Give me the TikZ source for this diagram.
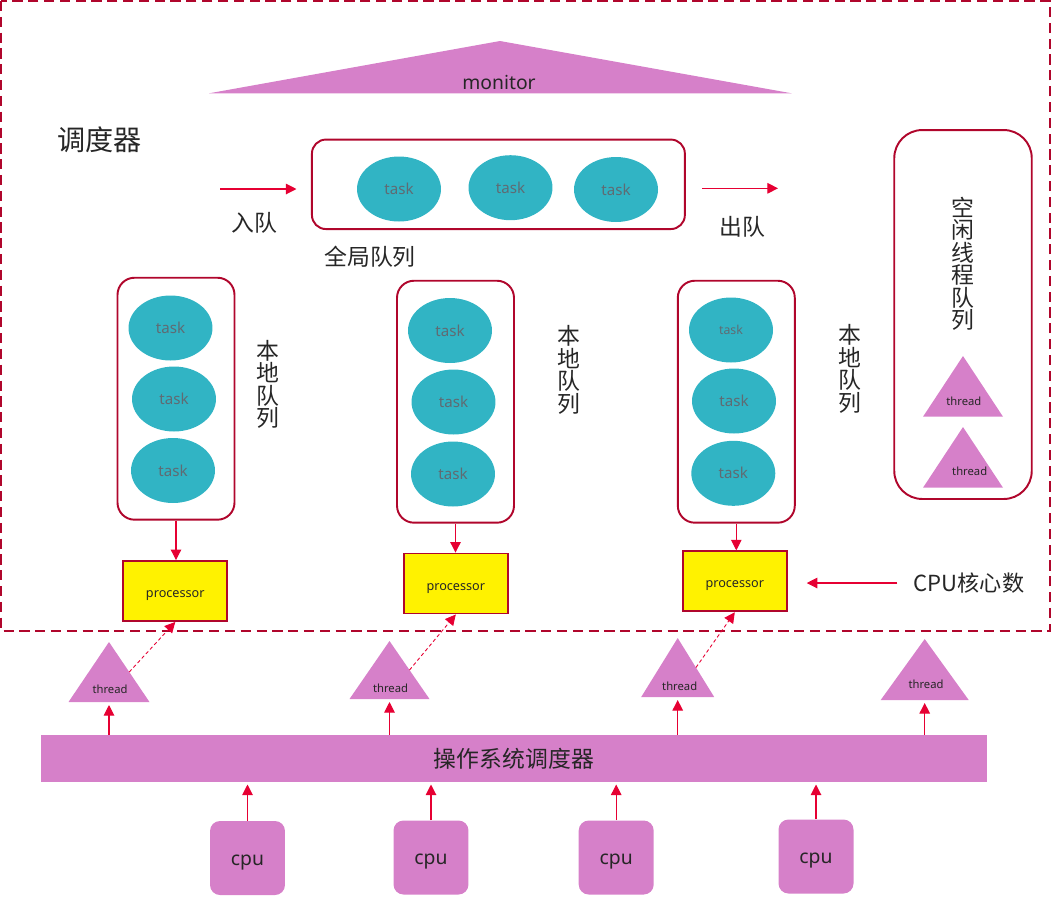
\documentclass[tikz,border=0pt]{standalone}
\usepackage{fontspec}
\setmainfont{Noto Sans}
\newfontfamily\cjk{Noto Sans CJK SC}
\usepackage{tikz}
\usetikzlibrary{arrows.meta,shapes.geometric}
\definecolor{koyuKirmizi}{HTML}{B0062C}
\definecolor{okKirmizi}{HTML}{E60033}
\definecolor{pembeMor}{HTML}{D680C9}
\definecolor{turkuaz}{HTML}{31B4C4}
\definecolor{yaziGri}{HTML}{5F6B73}
\definecolor{koyuYazi}{HTML}{262626}

\begin{document}
\begin{tikzpicture}[x=0.02cm,y=-0.02cm,
  kuyruk/.style={draw=koyuKirmizi,line width=1.1pt,rounded corners=0.34cm,minimum width=2.34cm,minimum height=4.84cm},
  gorev/.style={ellipse,fill=turkuaz,inner sep=0pt,minimum width=1.68cm,minimum height=1.3cm,text=yaziGri,font=\fontsize{8.6}{9}\selectfont},
  islemci/.style={draw=koyuKirmizi,line width=1.1pt,fill=yellow,minimum width=2.08cm,minimum height=1.2cm,text height=0.85em,text depth=0.1em,text=koyuYazi,font=\fontsize{7.2}{8}\selectfont},
  cpukutu/.style={fill=pembeMor,rounded corners=0.2cm,minimum width=1.5cm,minimum height=1.48cm,text height=0.9em,text depth=0.08em,text=koyuYazi,font=\fontsize{11}{11}\selectfont},
  okcizgi/.style={okKirmizi,line width=0.6pt,-{Triangle[length=6pt,width=6pt]}},
  kesikok/.style={okcizgi,line width=0.5pt,dash pattern=on 2pt off 1.5pt},
  etiket/.style={inner sep=0pt,align=center,text=koyuYazi,font=\cjk\fontsize{13}{12.8}\selectfont},
  ipyazi/.style={inner sep=0pt,text=koyuYazi,font=\fontsize{6.4}{7}\selectfont}]
\useasboundingbox (0,0) rectangle (1051,897);
\draw[koyuKirmizi,line width=1.3pt,dash pattern=on 5.8pt off 3.2pt] (1,1) rectangle (1050,631);
\fill[pembeMor] (209,93.3) -- (500,41) -- (791.7,93.3) -- cycle;
\node[inner sep=0pt,text=koyuYazi,font=\fontsize{11}{11}\selectfont] (mon) at (499,82) {monitor};
\node[etiket,font=\cjk\fontsize{16}{16}\selectfont] (sched) at (99.5,140) {调度器};

\node[kuyruk,minimum width=7.46cm,minimum height=1.79cm,rounded corners=0.28cm] (glob) at (498.4,184.3) {};
\foreach \n/\x/\y in {g1/399/189,g2/510.5/187.7,g3/616/189.5} \node[gorev] (\n) at (\x,\y) {task};
\coordinate (enq) at (220,189);
\coordinate (deq) at (778,188.3);
\draw[okcizgi,shorten >=0.29cm] (enq) -- (enq -| glob.west);
\draw[okcizgi,shorten <=0.33cm] (glob.east |- deq) -- (deq);
\node[etiket] (enqtxt) at (254,223) {入队};
\node[etiket] (deqtxt) at (742.5,227) {出队};
\node[etiket] (globtxt) at (370,257) {全局队列};

\foreach \n/\x/\y in {lq1/176/398.7,lq2/455.5/401.7,lq3/736.3/401.7} \node[kuyruk] (\n) at (\x,\y) {};
\foreach \n/\x/\y in {a1/170.5/328,a2/174/399,a3/173/470.5,b1/450/330.5,b2/453.5/402,b3/453/474,c2/734/401,c3/733.3/473.3}
  \node[gorev] (\n) at (\x,\y) {task};
\node[gorev,font=\fontsize{7}{7}\selectfont] (c1) at (731,330) {task};
\foreach \n/\x/\y in {yl1/267.5/384.5,yl2/568.6/370,yl3/849.5/369} \node[etiket] (\n) at (\x,\y) {本\\地\\队\\列};

\node[kuyruk,minimum width=2.75cm,minimum height=7.38cm,rounded corners=0.56cm] (idle) at (963,314.5) {};
\node[etiket] (idletxt) at (962.5,264) {空\\闲\\线\\程\\队\\列};

\foreach \n/\x/\y in {p1/175.3/591,p2/455.8/583.5,p3/734.8/581.3} \node[islemci] (\n) at (\x,\y) {processor};
\foreach \q/\p in {lq1/p1,lq2/p2,lq3/p3} \draw[okcizgi] (\q.south) -- (\q.south |- \p.north);
\node[etiket,font=\cjk\fontsize{12.6}{12.6}\selectfont] (cores) at (969,583) {CPU核心数};
\draw[okcizgi,shorten <=0.32cm,shorten >=0.38cm] (cores.west) -- (cores.west -| p3.east);

\foreach \n/\ax/\ay/\by/\hw/\tx/\ty in {th1/109/642/702/40.5/110/689,th2/389.5/641/699/40/390.5/688,th3/677.7/638/697/36.5/679.7/686,th4/924.7/639/700/44/926/684,bt1/963/356/416.7/40/963.8/401,bt2/963/427/487.7/40/969.7/471.7}{
  \fill[pembeMor] (\ax-\hw,\by) -- (\ax,\ay) -- (\ax+\hw,\by) -- cycle;
  \node[ipyazi] (\n) at (\tx,\ty) {thread};
  \coordinate (\n-b) at (\ax,\by);
  \coordinate (\n-r) at (\ax+\hw/2,{(\ay+\by)/2});
}
\foreach \t/\p in {th1/p1,th2/p2,th3/p3} \draw[kesikok] (\t-r) -- (\p.south);

\node[fill=pembeMor,inner sep=0pt,minimum width=18.91cm,minimum height=0.93cm,text=koyuYazi,font=\cjk\fontsize{13}{13}\selectfont] (os) at (513.9,758.4) {操作系统调度器};
\foreach \n in {th1,th2,th3,th4} \draw[okcizgi,shorten >=0.06cm] (os.north -| \n-b) -- (\n-b);

\foreach \n/\x/\y in {cpu1/247.5/858,cpu2/431/857.5,cpu3/616.2/857.5,cpu4/816/856.5} \node[cpukutu] (\n) at (\x,\y) {cpu};
\foreach \n in {cpu1,cpu2,cpu3,cpu4} \draw[okcizgi,shorten >=0.05cm] (\n.north) -- (\n.north |- os.south);
\end{tikzpicture}
\end{document}
